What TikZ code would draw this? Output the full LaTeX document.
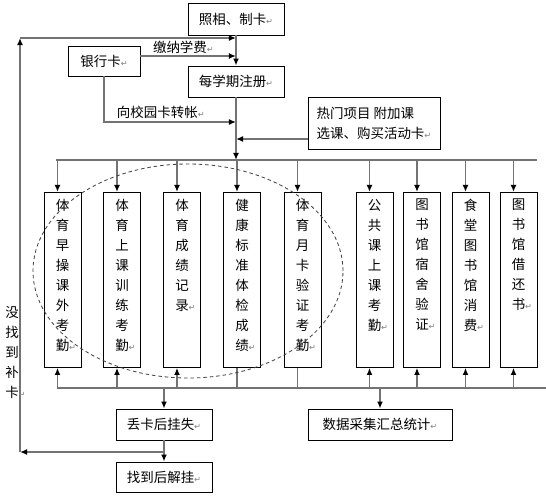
\documentclass[tikz,border=0pt]{standalone}
\usepackage{fontspec}
\newfontfamily\cjk{Noto Sans CJK SC}
\newfontfamily\retfont{DejaVu Sans}
\usetikzlibrary{arrows.meta}
\usetikzlibrary{calc}

\newcommand{\ret}{{\retfont\color{gray}\fontsize{7}{7}\selectfont ↵}}
\newcommand{\vcol}[1]{\parbox[c][5.25cm][t]{1.11cm}{\centering\vspace*{0.2cm}#1}}

\begin{document}
\begin{tikzpicture}[x=0.03cm, y=-0.03cm,
	font=\cjk\fontsize{11.5}{17.07}\selectfont,
	box/.style={draw, line width=0.7pt, inner sep=0pt},
	colbox/.style={box, anchor=north},
	link/.style={draw=black!55, line width=1.2pt},
	arr/.style={link, -{Latex[length=6pt,width=5pt,color=black]}}]

	\useasboundingbox (0,0) rectangle (546,501);

	% Upper part: card, bank, registration
	\node[box, minimum width=2.88cm, minimum height=0.96cm] (photo) at (236,19) {照相、制卡\ret};
	\node[box, minimum width=2.16cm, minimum height=0.9cm] (bank) at (104,61) {银行卡\ret};
	\node[box, minimum width=2.88cm, minimum height=0.93cm] (reg) at (236,81.5) {每学期注册\ret};
	\node[box, minimum width=3.96cm, minimum height=1.56cm, align=left] (hot) at (374,123) {热门项目 附加课\\选课、购买活动卡\ret};

	\coordinate (tbl) at (56,160);
	\coordinate (tbr) at (537,160);
	\coordinate (xfer) at (236,122);

	\draw[arr] (photo.south) -- (reg.north);
	\draw[arr] ([yshift=0.15cm]bank.east) -- ([yshift=0.15cm]bank.east -| reg.north) node [pos=0.45, above=-2pt] {缴纳学费\ret};
	\draw[arr] (bank.south) |- (xfer) node [pos=0.5, anchor=south west, xshift=0.25cm, yshift=-1pt] {向校园卡转帐\ret};
	\draw[arr] ([yshift=-0.48cm]hot.west) -- ([yshift=-0.48cm]hot.west -| reg.south);
	\draw[arr] (reg.south) -- (reg.south |- tbl);
	\draw[link] (tbl) -- (tbr);

	% Columns of the card uses
	\node[colbox] (c1) at (62.5,192) {\vcol{体\\育\\早\\操\\课\\外\\考\\勤\rlap{\ret}}};
	\node[colbox] (c2) at (122,192) {\vcol{体\\育\\上\\课\\训\\练\\考\\勤\rlap{\ret}}};
	\node[colbox] (c3) at (182,192) {\vcol{体\\育\\成\\绩\\记\\录\rlap{\ret}}};
	\node[colbox] (c4) at (242,192) {\vcol{健\\康\\标\\准\\体\\检\\成\\绩\rlap{\ret}}};
	\node[colbox] (c5) at (302.5,192) {\vcol{体\\育\\月\\卡\\验\\证\\考\\勤\rlap{\ret}}};
	\node[colbox] (c6) at (374.5,192) {\vcol{公\\共\\课\\上\\课\\考\\勤\rlap{\ret}}};
	\node[colbox] (c7) at (422,192) {\vcol{图\\书\\馆\\宿\\舍\\验\\证\rlap{\ret}}};
	\node[colbox] (c8) at (470.5,192) {\vcol{食\\堂\\图\\书\\馆\\消\\费\rlap{\ret}}};
	\node[colbox] (c9) at (518.5,192) {\vcol{图\\书\\馆\\借\\还\\书\rlap{\ret}}};

	\draw[arr] ([xshift=-0.15cm]c1.north |- tbl) -- ([xshift=-0.15cm]c1.north);
	\draw[arr] ([xshift=-0.15cm]c2.north |- tbl) -- ([xshift=-0.15cm]c2.north);
	\draw[arr] ([xshift=-0.15cm]c3.north |- tbl) -- ([xshift=-0.15cm]c3.north);
	\draw[arr] ([xshift=-0.15cm]c4.north |- tbl) -- ([xshift=-0.15cm]c4.north);
	\draw[arr] ([xshift=-0.15cm]c5.north |- tbl) -- ([xshift=-0.15cm]c5.north);
	\draw[arr] ([xshift=-0.15cm]c6.north |- tbl) -- ([xshift=-0.15cm]c6.north);
	\draw[arr] ([xshift=-0.15cm]c7.north |- tbl) -- ([xshift=-0.15cm]c7.north);
	\draw[arr] ([xshift=-0.15cm]c8.north |- tbl) -- ([xshift=-0.15cm]c8.north);
	\draw[arr] ([xshift=-0.15cm]c9.north |- tbl) -- ([xshift=-0.15cm]c9.north);

	% Lower bus and collecting boxes
	\coordinate (bbl) at (57,388);
	\coordinate (bbr) at (546,388);
	\draw[link] (bbl) -- (bbr);

	\draw[arr] ([xshift=-0.15cm]c1.south |- bbl) -- ([xshift=-0.15cm]c1.south);
	\draw[arr] ([xshift=-0.15cm]c2.south |- bbl) -- ([xshift=-0.15cm]c2.south);
	\draw[arr] ([xshift=-0.15cm]c3.south |- bbl) -- ([xshift=-0.15cm]c3.south);
	\draw[link] ([xshift=-0.15cm]c4.south |- bbl) -- ([xshift=-0.15cm]c4.south);
	\draw[link] ([xshift=-0.15cm]c5.south |- bbl) -- ([xshift=-0.15cm]c5.south);
	\draw[arr] ([xshift=-0.15cm]c6.south |- bbl) -- ([xshift=-0.15cm]c6.south);
	\draw[arr] ([xshift=-0.15cm]c7.south |- bbl) -- ([xshift=-0.15cm]c7.south);
	\draw[arr] ([xshift=-0.15cm]c8.south |- bbl) -- ([xshift=-0.15cm]c8.south);
	\draw[arr] ([xshift=-0.15cm]c9.south |- bbl) -- ([xshift=-0.15cm]c9.south);

	\node[box, minimum width=2.88cm, minimum height=0.93cm] (lost) at (164,424.5) {丢卡后挂失\ret};
	\node[box, minimum width=4.32cm, minimum height=0.93cm] (stat) at (380,424.5) {数据采集汇总统计\ret};
	\node[box, minimum width=2.88cm, minimum height=0.9cm] (found) at (164,477) {找到后解挂\ret};

	\draw[arr] (lost.north |- bbl) -- (lost.north);
	\draw[arr] (stat.north |- bbl) -- (stat.north);
	\draw[arr] (lost.south) -- (found.north);

	% Card not found: back to the start
	\coordinate (lb) at (20,452);
	\coordinate (lt) at (20,38);
	\draw[arr] (lost.south |- lb) -- (lb);
	\draw[arr] (lb) -- (lt);
	\draw[arr] (lt) -- (lt -| photo.south);
	\node[align=center] (miss) at (12,352) {没\\找\\到\\补\\卡\rlap{\ret}};

	% Dashed group of the sports records
	\draw[dashed, dash pattern=on 3pt off 2.5pt, black!75, line width=0.7pt] (188,271) ellipse [x radius=4.65cm, y radius=3.21cm];
\end{tikzpicture}
\end{document}
